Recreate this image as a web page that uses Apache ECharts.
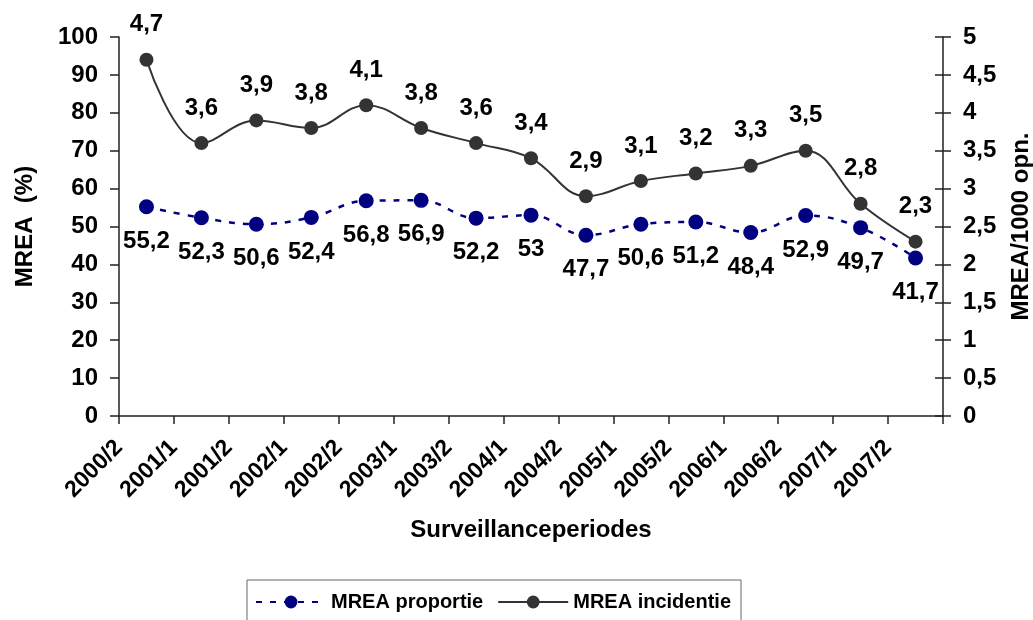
<!DOCTYPE html>
<html>
<head>
<meta charset="utf-8">
<script src="https://cdn.jsdelivr.net/npm/echarts@6/dist/echarts.min.js"></script>
<style>
  html, body { margin: 0; padding: 0; background: #fff; }
  #chart { width: 1033px; height: 620px; }
</style>
</head>
<body>
<div id="chart"></div>
<script>
const categories = ['2000/2', '2001/1', '2001/2', '2002/1', '2002/2', '2003/1', '2003/2', '2004/1',
    '2004/2', '2005/1', '2005/2', '2006/1', '2006/2', '2007/1', '2007/2'];
const proportie = [55.2, 52.3, 50.6, 52.4, 56.8, 56.9, 52.2, 53, 47.7, 50.6, 51.2, 48.4, 52.9, 49.7, 41.7];
const incidentie = [4.7, 3.6, 3.9, 3.8, 4.1, 3.8, 3.6, 3.4, 2.9, 3.1, 3.2, 3.3, 3.5, 2.8, 2.3];

const FONT = 'Liberation Sans, Arial, sans-serif';
const comma = v => String(v).replace('.', ',');

const chart = echarts.init(document.getElementById('chart'));

// punten in het midden van elke periode, labels op de grenzen
const toPoints = arr => arr.map((v, i) => [i + 0.5, v]);

const option = {
    animation: false,
    textStyle: { fontFamily: FONT },
    grid: { left: 119, right: 90, top: 37, bottom: 204, outerBoundsMode: 'none' },
    legend: {
        left: 247,
        top: 580,
        padding: [12, 10, 40, 8],
        itemWidth: 70,
        itemHeight: 16,
        itemGap: 14,
        borderColor: '#666',
        borderWidth: 1,
        textStyle: { fontFamily: FONT, fontSize: 20, fontWeight: 'bold', color: '#000' },
        data: ['MREA proportie', 'MREA incidentie']
    },
    xAxis: {
        type: 'value',
        min: 0,
        max: 15,
        interval: 1,
        name: 'Surveillanceperiodes',
        nameLocation: 'middle',
        nameGap: 102,
        nameTextStyle: { fontFamily: FONT, fontSize: 24, fontWeight: 'bold', color: '#000' },
        axisLine: { lineStyle: { color: '#222', width: 1.5 } },
        axisTick: { length: 8, lineStyle: { color: '#222', width: 1.5 } },
        splitLine: { show: false },
        axisLabel: {
            rotate: 45,
            margin: 28,
            fontFamily: FONT,
            fontSize: 23,
            fontWeight: 'bold',
            color: '#000',
            formatter: v => categories[v] || ''
        }
    },
    yAxis: [
        {
            type: 'value',
            min: 0,
            max: 100,
            interval: 10,
            position: 'left',
            name: 'MREA  (%)',
            nameLocation: 'middle',
            nameRotate: 90,
            nameGap: 82,
            nameTextStyle: { fontFamily: FONT, fontSize: 24, fontWeight: 'bold', color: '#000' },
            axisLine: { show: true, lineStyle: { color: '#222', width: 1.5 } },
            axisTick: { show: true, length: 9, lineStyle: { color: '#222', width: 1.5 } },
            splitLine: { show: false },
            axisLabel: { margin: 21, fontFamily: FONT, fontSize: 24, fontWeight: 'bold', color: '#000' }
        },
        {
            type: 'value',
            min: 0,
            max: 5,
            interval: 0.5,
            position: 'right',
            name: 'MREA/1000 opn.',
            nameLocation: 'middle',
            nameRotate: 90,
            nameGap: 66,
            nameTextStyle: { fontFamily: FONT, fontSize: 24, fontWeight: 'bold', color: '#000' },
            axisLine: { show: true, lineStyle: { color: '#222', width: 1.5 } },
            axisTick: { show: true, length: 8, lineStyle: { color: '#222', width: 1.5 } },
            splitLine: { show: false },
            axisLabel: { margin: 20, fontFamily: FONT, fontSize: 24, fontWeight: 'bold', color: '#000', formatter: comma }
        },
        {
            // alleen de naar binnen wijzende streepjes van de rechteras
            type: 'value',
            min: 0,
            max: 5,
            interval: 0.5,
            position: 'right',
            axisLine: { show: false },
            axisTick: { show: true, inside: true, length: 8, lineStyle: { color: '#222', width: 1.5 } },
            splitLine: { show: false },
            axisLabel: { show: false }
        }
    ],
    series: [
        {
            name: 'MREA proportie',
            type: 'line',
            yAxisIndex: 0,
            data: toPoints(proportie),
            smooth: 0.4,
            symbol: 'circle',
            symbolSize: 15,
            itemStyle: { color: '#000080' },
            lineStyle: { color: '#000080', width: 2.5, type: [6, 8] },
            label: {
                show: true,
                position: 'bottom',
                distance: 15,
                fontFamily: FONT,
                fontSize: 24,
                fontWeight: 'bold',
                color: '#000',
                formatter: p => comma(p.value[1])
            }
        },
        {
            name: 'MREA incidentie',
            type: 'line',
            yAxisIndex: 1,
            data: toPoints(incidentie),
            smooth: 0.4,
            symbol: 'circle',
            symbolSize: 14,
            itemStyle: { color: '#333333' },
            lineStyle: { color: '#333333', width: 2 },
            label: {
                show: true,
                position: 'top',
                distance: 16,
                fontFamily: FONT,
                fontSize: 24,
                fontWeight: 'bold',
                color: '#000',
                formatter: p => comma(p.value[1])
            }
        }
    ]
};

chart.setOption(option);
</script>
</body>
</html>
